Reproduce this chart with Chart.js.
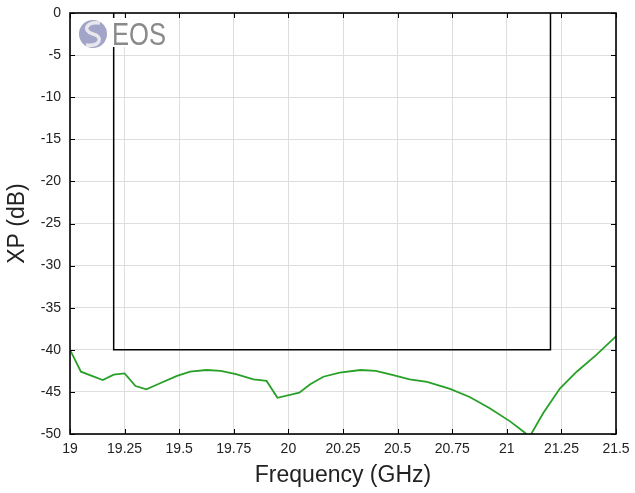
<!DOCTYPE html>
<html>
<head>
<meta charset="utf-8">
<script src="https://cdn.jsdelivr.net/npm/chart.js@4.4.0/dist/chart.umd.min.js"></script>
<style>
  body { margin: 0; background: #fff; }
  canvas { display: block; }
</style>
</head>
<body>
<canvas id="myChart" width="635" height="493"></canvas>
<script>
'use strict';

// measured XP curve
let freq = [19, 19.05, 19.15, 19.2, 19.25, 19.3, 19.35, 19.41, 19.49, 19.55, 19.625, 19.69, 19.76, 19.84, 19.9,
  19.95, 20.05, 20.1, 20.16, 20.235, 20.33, 20.4, 20.48, 20.555, 20.635, 20.74, 20.83, 20.92, 21.015, 21.083,
  21.1, 21.115, 21.167, 21.243, 21.32, 21.41, 21.5];
let xp = [-40, -42.6, -43.6, -42.95, -42.8, -44.3, -44.7, -44.0, -43.1, -42.6, -42.4, -42.5, -42.9, -43.5, -43.7,
  -45.7, -45.1, -44.1, -43.2, -42.7, -42.4, -42.5, -43.0, -43.5, -43.8, -44.65, -45.6, -46.9, -48.5, -49.85,
  -50.4, -49.85, -47.5, -44.6, -42.6, -40.6, -38.4];

// spec mask
let maskFreq = [19.2, 19.2, 21.2, 21.2];
let maskXp = [0, -40, -40, 0];

let xTicks = [19, 19.25, 19.5, 19.75, 20, 20.25, 20.5, 20.75, 21, 21.25, 21.5];
let yTicks = [0, -5, -10, -15, -20, -25, -30, -35, -40, -45, -50];

let fontFam = "'Liberation Sans', Arial, Helvetica, sans-serif";
let textColor = '#222';

function toPoints(xs, ys) {
  let pts = [];
  for (let i = 0; i < xs.length; i++) {
    pts.push({x: xs[i], y: ys[i]});
  }
  return pts;
}

function noPad(scale) {
  scale.paddingTop = 0;
  scale.paddingBottom = 0;
  scale.paddingLeft = 0;
  scale.paddingRight = 0;
}

// frame, inward ticks and logo
let framePlugin = {
  id: 'frame',
  afterDatasetsDraw(chart) {
    let ctx = chart.ctx;
    let a = chart.chartArea;
    let xs = chart.scales.x;
    let ys = chart.scales.y;

    // logo box
    ctx.save();
    ctx.fillStyle = '#fff';
    ctx.fillRect(74, 18, 100, 29);
    let cx = 93, cy = 34;
    ctx.beginPath();
    ctx.arc(cx, cy, 14, 0, Math.PI * 2);
    ctx.fillStyle = '#a2a4c8';
    ctx.fill();
    ctx.beginPath();
    ctx.moveTo(cx + 7, cy - 11);
    ctx.bezierCurveTo(cx - 7, cy - 13, cx - 11, cy - 3, cx, cy);
    ctx.bezierCurveTo(cx + 11, cy + 3, cx + 7, cy + 13, cx - 7, cy + 11);
    ctx.strokeStyle = 'rgba(235,235,238,0.95)';
    ctx.lineWidth = 3.5;
    ctx.stroke();
    ctx.fillStyle = '#8a8a8a';
    ctx.font = "32px 'Liberation Sans', Arial, sans-serif";
    ctx.textBaseline = 'alphabetic';
    ctx.textAlign = 'left';
    ctx.translate(112, 45);
    ctx.scale(0.8, 1);
    ctx.fillText('EOS', 0, 0);
    ctx.restore();

    ctx.save();
    ctx.strokeStyle = '#000';
    ctx.lineWidth = 1;
    let len = 5;
    ctx.beginPath();
    xTicks.forEach(function(v) {
      let px = Math.round(xs.getPixelForValue(v)) + 0.5;
      ctx.moveTo(px, a.bottom);
      ctx.lineTo(px, a.bottom - len);
      ctx.moveTo(px, a.top);
      ctx.lineTo(px, a.top + len);
    });
    yTicks.forEach(function(v) {
      let py = Math.round(ys.getPixelForValue(v)) + 0.5;
      ctx.moveTo(a.left, py);
      ctx.lineTo(a.left + len, py);
      ctx.moveTo(a.right, py);
      ctx.lineTo(a.right - len, py);
    });
    ctx.stroke();
    ctx.lineWidth = 1.6;
    ctx.strokeRect(a.left, a.top, a.right - a.left, a.bottom - a.top);
    ctx.restore();
  }
};

let ctx = document.getElementById('myChart').getContext('2d');
let myChart = new Chart(ctx, {
  type: 'scatter',
  data: {
    datasets: [{
      label: 'XP',
      data: toPoints(freq, xp),
      showLine: true,
      borderColor: 'rgb(40,160,40)',
      borderWidth: 1.8,
      pointRadius: 0,
      tension: 0,
      order: 2
    }, {
      label: 'Mask',
      data: toPoints(maskFreq, maskXp),
      showLine: true,
      borderColor: '#000',
      borderWidth: 1.5,
      pointRadius: 0,
      tension: 0,
      order: 1
    }]
  },
  options: {
    responsive: false,
    animation: false,
    layout: { padding: { top: 13, right: 19, left: 0, bottom: 0 } },
    plugins: {
      legend: { display: false },
      tooltip: { enabled: false }
    },
    scales: {
      x: {
        type: 'linear',
        min: 19,
        max: 21.5,
        afterFit: function(scale) { scale.height = 59; noPad(scale); },
        afterBuildTicks: function(scale) {
          scale.ticks = xTicks.map(function(v) { return {value: v}; });
        },
        ticks: {
          color: textColor,
          padding: 7,
          maxRotation: 0,
          font: { family: fontFam, size: 14 },
          callback: function(v) { return String(v); }
        },
        grid: { color: '#dedede', drawTicks: false },
        border: { display: false },
        title: {
          display: true,
          text: 'Frequency (GHz)',
          color: textColor,
          font: { family: fontFam, size: 23 },
          padding: { top: 0, bottom: 4 }
        }
      },
      y: {
        min: -50,
        max: 0,
        afterFit: function(scale) { scale.width = 70; noPad(scale); },
        afterBuildTicks: function(scale) {
          scale.ticks = yTicks.map(function(v) { return {value: v}; });
        },
        ticks: {
          color: textColor,
          padding: 9,
          font: { family: fontFam, size: 14 },
          callback: function(v) { return String(v); }
        },
        grid: { color: '#dedede', drawTicks: false },
        border: { display: false },
        title: {
          display: true,
          text: 'XP (dB)',
          color: textColor,
          font: { family: fontFam, size: 23 },
          padding: { top: 4, bottom: 0 }
        }
      }
    }
  },
  plugins: [framePlugin]
});
</script>
</body>
</html>
